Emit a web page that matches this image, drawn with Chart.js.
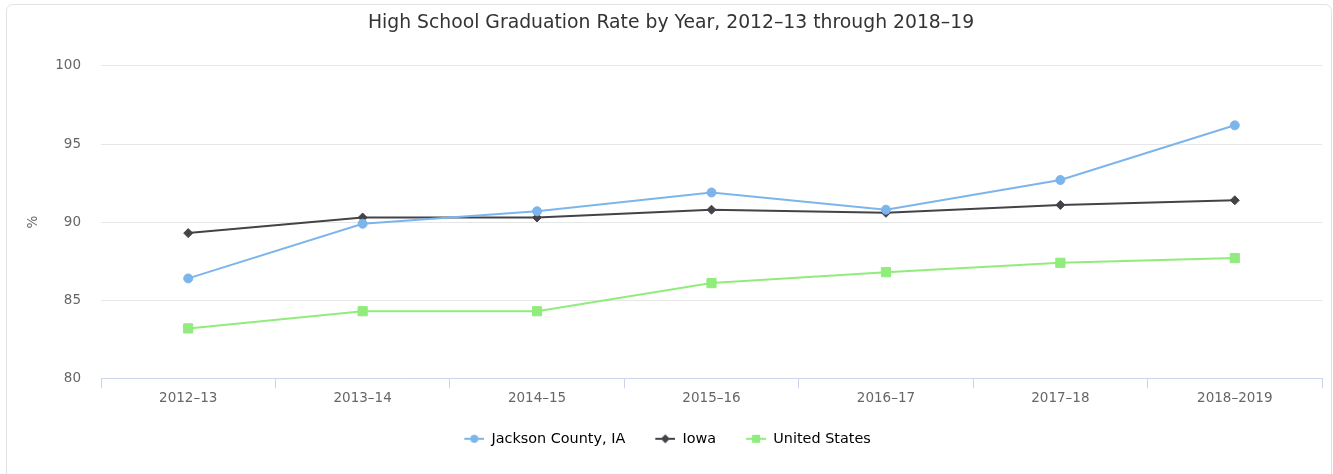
<!DOCTYPE html>
<html>
<head>
<meta charset="utf-8">
<script src="https://cdn.jsdelivr.net/npm/chart.js@4/dist/chart.umd.min.js"></script>
<style>
  html, body { margin: 0; padding: 0; background: #fff; }
  .card {
    position: absolute; left: 6px; top: 4px; width: 1326px; height: 500px;
    border: 1px solid #e3e3e3; border-radius: 7px; box-sizing: border-box;
  }
  .wrap { position: absolute; left: 0; top: 0; width: 1333px; height: 474px; }
</style>
</head>
<body>
<div class="card"></div>
<div class="wrap"><canvas id="gradChart" width="1333" height="474"></canvas></div>
<script>
const years = ['2012–13', '2013–14', '2014–15', '2015–16', '2016–17', '2017–18', '2018–2019'];
const jacksonCounty = [86.4, 89.9, 90.7, 91.9, 90.8, 92.7, 96.2];
const iowa = [89.3, 90.3, 90.3, 90.8, 90.6, 91.1, 91.4];
const unitedStates = [83.2, 84.3, 84.3, 86.1, 86.8, 87.4, 87.7];
const yTicks = [80, 85, 90, 95, 100];

const FONT = "'DejaVu Sans', sans-serif";

// line+marker swatch for the legend (left 7px kept blank as item spacing)
function legendSwatch(color, style, r) {
  const c = document.createElement('canvas');
  c.width = 27; c.height = 12;
  const g = c.getContext('2d');
  g.strokeStyle = color; g.lineWidth = 2;
  g.beginPath(); g.moveTo(7, 6); g.lineTo(27, 6); g.stroke();
  g.fillStyle = color;
  g.beginPath();
  if (style === 'circle') g.arc(17, 6, r, 0, Math.PI * 2);
  else if (style === 'rectRot') { g.moveTo(17 - r, 6); g.lineTo(17, 6 - r); g.lineTo(17 + r, 6); g.lineTo(17, 6 + r); g.closePath(); }
  else g.rect(17 - r, 6 - r, 2 * r, 2 * r);
  g.fill();
  return c;
}

const seriesDefs = [
  { label: 'Jackson County, IA', data: jacksonCounty, color: '#7cb5ec', style: 'circle', radius: 4.5, sw: 4 },
  { label: 'Iowa', data: iowa, color: '#434348', style: 'rectRot', radius: 4.5, sw: 4.5 },
  { label: 'United States', data: unitedStates, color: '#90ed7d', style: 'rect', radius: 6.5, sw: 4 }
];

// nudge the legend a few px left of the title's centre line
const legendShift = {
  id: 'legendShift',
  afterLayout(chart) {
    const lg = chart.legend;
    if (!lg) return;
    lg.left -= 7;
    lg.right -= 7;
    lg.legendHitBoxes.forEach(b => { b.left -= 7; });
  }
};

const ctx = document.getElementById('gradChart').getContext('2d');

const gradChart = new Chart(ctx, {
  type: 'line',
  data: {
    labels: years,
    datasets: seriesDefs.map(s => ({
      label: s.label,
      data: s.data,
      borderColor: s.color,
      backgroundColor: s.color,
      borderWidth: 2,
      tension: 0,
      pointStyle: s.style,
      pointRadius: s.radius,
      pointBorderWidth: 1,
      pointBorderColor: s.color,
      pointBackgroundColor: s.color
    }))
  },
  plugins: [legendShift],
  options: {
    responsive: false,
    animation: false,
    layout: { padding: { left: 20, right: 11, top: 0, bottom: 18 } },
    plugins: {
      title: {
        display: true,
        text: 'High School Graduation Rate by Year, 2012–13 through 2018–19',
        color: '#333333',
        font: { family: FONT, size: 18.8, weight: 'normal' },
        padding: { top: 12, bottom: 31.4 }
      },
      legend: {
        position: 'bottom',
        labels: {
          color: '#333333',
          font: { family: FONT, size: 14.4 },
          usePointStyle: true,
          pointStyleWidth: 27,
          padding: 23,
          generateLabels: chart => seriesDefs.map((s, i) => ({
            text: s.label,
            pointStyle: legendSwatch(s.color, s.style, s.sw),
            fillStyle: s.color,
            strokeStyle: s.color,
            lineWidth: 0,
            hidden: !chart.isDatasetVisible(i),
            datasetIndex: i
          }))
        }
      },
      tooltip: { enabled: true }
    },
    scales: {
      x: {
        offset: true,
        grid: {
          offset: true,
          drawOnChartArea: false,
          drawTicks: true,
          tickLength: 10,
          color: '#ccd6eb'
        },
        border: { color: '#ccd6eb', width: 1 },
        ticks: {
          color: '#666666',
          font: { family: FONT, size: 13.5 },
          padding: 2,
          maxRotation: 0
        }
      },
      y: {
        min: 80,
        max: 100,
        afterFit: scale => { scale.width = 81; },
        afterBuildTicks: scale => { scale.ticks = yTicks.map(v => ({ value: v })); },
        grid: { color: '#e6e6e6', drawTicks: false },
        border: { display: false },
        ticks: {
          color: '#666666',
          font: { family: FONT, size: 13.5 },
          padding: 20
        },
        title: {
          display: true,
          text: '%',
          color: '#666666',
          font: { family: FONT, size: 13.5 },
          padding: { top: 5, bottom: 0 }
        }
      }
    }
  }
});
</script>
</body>
</html>
